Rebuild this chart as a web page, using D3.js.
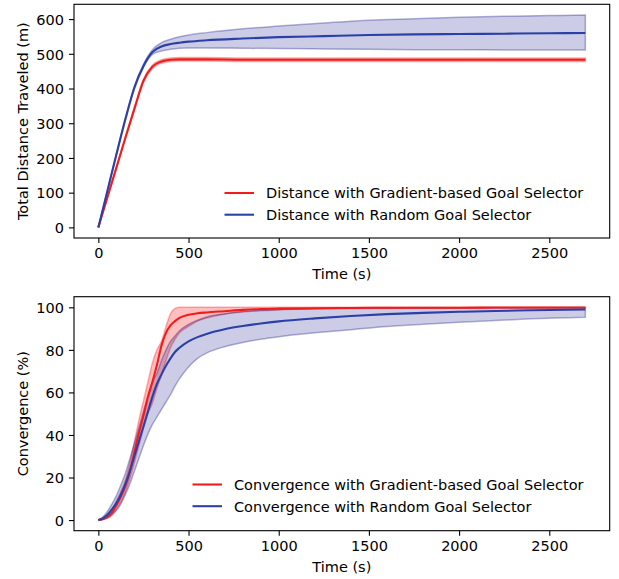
<!DOCTYPE html>
<html>
<head>
<meta charset="utf-8">
<script src="https://cdn.jsdelivr.net/npm/d3@7"></script>
<style>
  html, body { margin: 0; padding: 0; background: #fff; }
  svg { display: block; font-family: "DejaVu Sans", sans-serif; }
</style>
</head>
<body>
<svg id="chart" width="619" height="579"></svg>
<script>
// ---------------- DATA ----------------
const distTime = [0, 50, 100, 150, 200, 250, 300, 350, 400, 450, 500, 600, 800, 1000, 1250, 1500, 1750, 2000, 2250, 2500, 2700];
const distGradMean = [0, 86, 172, 258, 342, 422, 463, 478, 483, 484, 484, 484, 483, 483, 483, 483, 483, 483, 483, 483, 483];
const distGradLow  = [0, 85, 170, 255, 338, 417, 458, 473, 478, 479, 479, 479, 478, 478, 478, 478, 478, 478, 478, 478, 478];
const distGradHigh = [0, 87, 174, 261, 346, 427, 468, 483, 488, 489, 489, 489, 488, 488, 488, 488, 488, 488, 488, 488, 488];
const distRandMean = [0, 105, 210, 312, 403, 465, 505, 521, 528, 532, 535, 539, 544, 548, 551, 554, 556, 557, 558, 559, 560];
const distRandLow  = [0, 104, 208, 309, 399, 460, 498, 508, 513, 516, 517, 517, 516, 515, 514, 513, 512, 512, 511, 511, 511];
const distRandHigh = [0, 106, 212, 315, 407, 470, 512, 532, 542, 549, 554, 561, 572, 580, 589, 597, 601, 605, 608, 610, 612];

const convTime = [0, 25, 50, 75, 100, 125, 150, 175, 200, 225, 250, 275, 300, 325, 350, 375, 400, 425, 450, 500, 550, 600, 700, 800, 900, 1000, 1200, 1400, 1600, 1800, 2000, 2200, 2400, 2700];
const convGradMean = [0, 0.5, 1.5, 3.5, 7, 11, 16, 23, 32, 41, 49, 58, 65, 73, 82, 88, 91.5, 93.5, 95, 96.5, 97.2, 97.6, 98.2, 98.8, 99.2, 99.4, 99.6, 99.7, 99.8, 99.8, 99.8, 99.9, 99.9, 99.9];
const convGradLow  = [0, 0.2, 0.8, 2.2, 5, 8.5, 13, 19.5, 27, 35, 43, 50, 55, 62, 68, 75, 81, 85, 88, 91, 93.5, 95, 96.8, 97.8, 98.4, 98.8, 99.2, 99.4, 99.5, 99.6, 99.6, 99.7, 99.7, 99.7];
const convGradHigh = [0, 1, 2.5, 5, 9, 13.5, 19, 27, 37, 47, 56, 65, 74, 80, 84, 91, 97, 99.5, 100, 100, 100, 100, 100, 100, 100, 100, 100, 100, 100, 100, 100, 100, 100, 100];
const convRandMean = [0, 0.8, 2.5, 5, 8, 12, 17, 23, 30, 37, 44, 51, 58, 64, 68.5, 72.5, 76, 79, 81, 84, 86, 87.5, 89.7, 91.2, 92.4, 93.4, 94.8, 95.9, 96.8, 97.4, 97.9, 98.3, 98.6, 99.0];
const convRandLow  = [0, 0.3, 1, 2.5, 4.5, 7.5, 12, 17, 23, 29, 35, 40.5, 45, 48.5, 52, 55.5, 59, 63, 66.5, 72, 76, 78.5, 81.5, 83.5, 85, 86.2, 88, 89.5, 91, 92, 93, 93.8, 94.6, 95.3];
const convRandHigh = [0, 1.5, 4, 7.5, 11.5, 16.5, 22, 29, 36, 43.5, 51, 58, 65, 69, 75, 80, 84, 86.5, 89, 92, 94, 95.5, 97, 98, 98.6, 99, 99.4, 99.6, 99.7, 99.7, 99.8, 99.8, 99.8, 99.8];

const xTicks = [0, 500, 1000, 1500, 2000, 2500];
const distTicks = [0, 100, 200, 300, 400, 500, 600];
const convTicks = [0, 20, 40, 60, 80, 100];

const distLegend = ["Distance with Gradient-based Goal Selector", "Distance with Random Goal Selector"];
const convLegend = ["Convergence with Gradient-based Goal Selector", "Convergence with Random Goal Selector"];

// ---------------- STYLE ----------------
const FS = 14.5;
const TICK = 5.07;
const RED = "#f01c1c", BLUE = "#2b40a6";
const RED_FILL = "rgba(255,0,0,0.25)", BLUE_FILL = "rgba(0,0,128,0.2)";
const RED_EDGE = "rgba(255,0,0,0.3)", BLUE_EDGE = "rgba(0,0,128,0.3)";

const svg = d3.select("#chart");

function padded(lo, hi) { const m = (hi - lo) * 0.05; return [lo - m, hi + m]; }

function panel(opts) {
  const { left, right, top, bottom, time, series, yTicks, yLabel, legend, legendX, legendY } = opts;
  const g = svg.append("g");
  const x = d3.scaleLinear().domain(padded(d3.min(time), d3.max(time))).range([left, right]);
  const allY = series.flatMap(s => s.low.concat(s.high, s.mean));
  const y = d3.scaleLinear().domain(padded(d3.min(allY), d3.max(allY))).range([bottom, top]);

  const curve = d3.curveMonotoneX;
  series.forEach(s => {
    const area = d3.area().x((d, i) => x(time[i])).y0((d, i) => y(s.low[i])).y1((d, i) => y(s.high[i])).curve(curve);
    g.append("path").attr("d", area(time)).attr("fill", s.fill).attr("stroke", s.edge).attr("stroke-width", 1.5);
  });
  series.forEach(s => {
    const line = d3.line().x((d, i) => x(time[i])).y((d, i) => y(s.mean[i])).curve(curve);
    g.append("path").attr("d", line(time)).attr("fill", "none").attr("stroke", s.color).attr("stroke-width", 2.08);
  });

  const xa = g.append("g").attr("transform", `translate(0,${bottom})`)
    .call(d3.axisBottom(x).tickValues(xTicks).tickSize(TICK).tickSizeOuter(0).tickPadding(5.1).tickFormat(d3.format("d")));
  const ya = g.append("g").attr("transform", `translate(${left},0)`)
    .call(d3.axisLeft(y).tickValues(yTicks).tickSize(TICK).tickSizeOuter(0).tickPadding(5.07).tickFormat(d3.format("d")));
  [xa, ya].forEach(a => {
    a.select(".domain").remove();
    a.selectAll("line").attr("stroke", "#000").attr("stroke-width", 1.11);
    a.selectAll("text").attr("font-size", FS).attr("font-family", "DejaVu Sans").attr("fill", "#000");
  });
  ya.selectAll("text").attr("dy", "0.36em");

  g.append("rect").attr("x", left).attr("y", top).attr("width", right - left).attr("height", bottom - top)
    .attr("fill", "none").attr("stroke", "#000").attr("stroke-width", 1.11);

  g.append("text").attr("x", (left + right) / 2).attr("y", bottom + 41.4).attr("text-anchor", "middle")
    .attr("font-size", FS).text("Time (s)");
  g.append("text").attr("transform", `translate(27.5,${(top + bottom) / 2}) rotate(-90)`).attr("text-anchor", "middle")
    .attr("font-size", FS).text(yLabel);

  legend.forEach((txt, i) => {
    const ly = legendY + i * 21.7;
    g.append("line").attr("x1", legendX).attr("x2", legendX + 29.5).attr("y1", ly).attr("y2", ly)
      .attr("stroke", series[i].color).attr("stroke-width", 2.08);
    g.append("text").attr("x", legendX + 41.5).attr("y", ly + 5.3).attr("font-size", FS).text(txt);
  });
}

panel({
  left: 74, right: 609.7, top: 4.3, bottom: 238,
  time: distTime,
  series: [
    { mean: distGradMean, low: distGradLow, high: distGradHigh, color: RED, fill: RED_FILL, edge: RED_EDGE },
    { mean: distRandMean, low: distRandLow, high: distRandHigh, color: BLUE, fill: BLUE_FILL, edge: BLUE_EDGE }
  ],
  yTicks: distTicks, yLabel: "Total Distance Traveled (m)",
  legend: distLegend, legendX: 224.5, legendY: 193
});

panel({
  left: 74, right: 609.7, top: 296.7, bottom: 530.7,
  time: convTime,
  series: [
    { mean: convGradMean, low: convGradLow, high: convGradHigh, color: RED, fill: RED_FILL, edge: RED_EDGE },
    { mean: convRandMean, low: convRandLow, high: convRandHigh, color: BLUE, fill: BLUE_FILL, edge: BLUE_EDGE }
  ],
  yTicks: convTicks, yLabel: "Convergence (%)",
  legend: convLegend, legendX: 192.5, legendY: 484.5
});
</script>
</body>
</html>
